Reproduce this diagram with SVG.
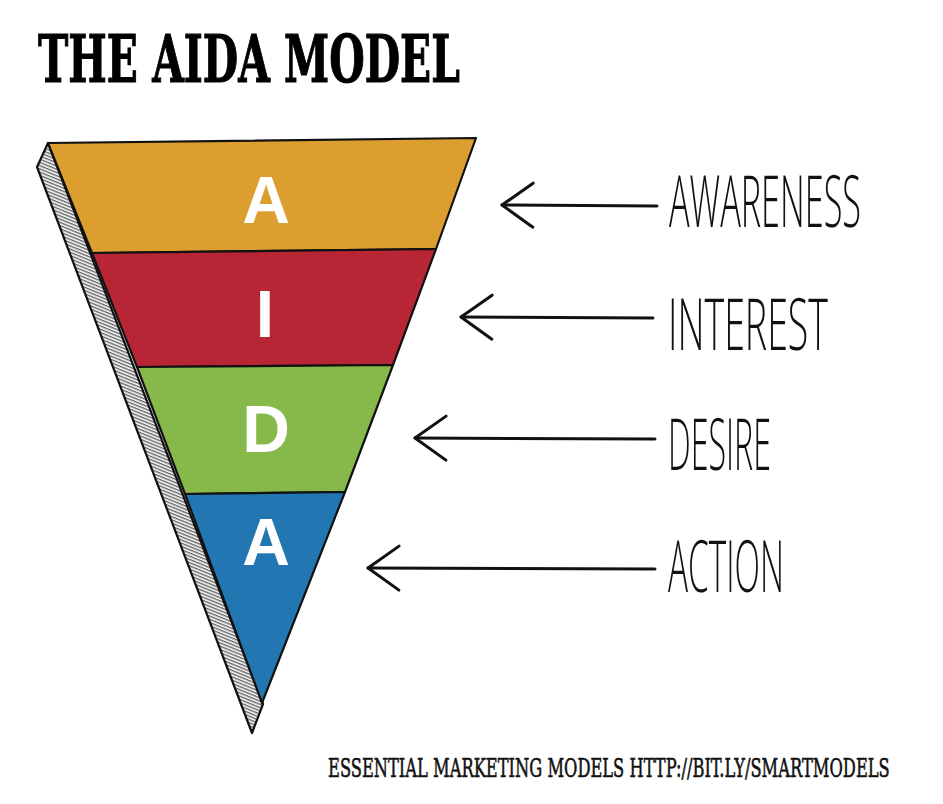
<svg xmlns="http://www.w3.org/2000/svg" width="943" height="804" viewBox="0 0 943 804">
<defs>
<pattern id="hatch" width="6" height="3" patternUnits="userSpaceOnUse" patternTransform="rotate(22)">
<rect width="6" height="3" fill="#fff"/>
<line x1="0" y1="0.8" x2="6" y2="0.8" stroke="#222" stroke-width="1"/>
</pattern>
<marker id="head" viewBox="0 0 40 50" refX="37" refY="25" markerWidth="40" markerHeight="50" markerUnits="userSpaceOnUse" orient="auto">
<path d="M6,3 L37,25 L6,47" fill="none" stroke="#111" stroke-width="3" stroke-linecap="round" stroke-linejoin="round"/>
</marker>
</defs>
<style>
.band{stroke:#111;stroke-width:2.2;stroke-linejoin:round}
.letter{font-family:"Liberation Sans",Arial,sans-serif;font-weight:bold;font-size:66px;fill:#fff;text-anchor:middle}
.lbl{font-family:"Open Sans","Liberation Sans",sans-serif;font-weight:300;font-size:72px;fill:#111}
.arrow{stroke:#111;stroke-width:3;fill:none;stroke-linecap:round}
.title{font-family:"DejaVu Serif","Liberation Serif",serif;font-weight:bold;font-size:66px;fill:#000}
.foot{font-family:"DejaVu Serif","Liberation Serif",serif;font-weight:normal;font-size:26px;fill:#111}
</style>
<rect width="943" height="804" fill="#fff"/>
<g id="title"><text class="title" transform="translate(38,82) scale(0.57,1)" x="0" y="0" textLength="740" lengthAdjust="spacingAndGlyphs" stroke="#000" stroke-width="1.2">THE AIDA MODEL</text></g>
<g id="shadow"><polygon points="48,143 37,167 252,733 263,704" fill="url(#hatch)" stroke="#111" stroke-width="2.2" stroke-linejoin="round"/></g>
<g id="awareness-band"><polygon class="band" points="48,143 476,138 436,249 92,253" fill="#DC9E2E"/><text class="letter" x="266" y="223">A</text></g>
<g id="interest-band"><polygon class="band" points="92,253 436,249 393,365 137,367" fill="#B82535"/><text class="letter" x="265" y="337">I</text></g>
<g id="desire-band"><polygon class="band" points="137,367 393,365 345,492 185,494" fill="#86B84A"/><text class="letter" x="266" y="452">D</text></g>
<g id="action-band"><polygon class="band" points="185,494 345,492 262,703" fill="#2277B2"/><text class="letter" x="266" y="565">A</text></g>
<g id="connectors">
<line class="arrow" x1="657" y1="206" x2="502" y2="205" marker-end="url(#head)"/>
<line class="arrow" x1="653" y1="318" x2="461" y2="317" marker-end="url(#head)"/>
<line class="arrow" x1="655" y1="439" x2="415" y2="438" marker-end="url(#head)"/>
<line class="arrow" x1="655" y1="569" x2="368" y2="568" marker-end="url(#head)"/>
</g>
<g id="label-awareness"><text class="lbl" transform="translate(669,227) scale(0.5,1)" x="0" y="0" textLength="384" lengthAdjust="spacingAndGlyphs">AWARENESS</text></g>
<g id="label-interest"><text class="lbl" transform="translate(668,350) scale(0.5,1)" x="0" y="0" textLength="320" lengthAdjust="spacingAndGlyphs">INTEREST</text></g>
<g id="label-desire"><text class="lbl" transform="translate(668,470) scale(0.5,1)" x="0" y="0" textLength="206" lengthAdjust="spacingAndGlyphs">DESIRE</text></g>
<g id="label-action"><text class="lbl" transform="translate(668,592) scale(0.5,1)" x="0" y="0" textLength="232" lengthAdjust="spacingAndGlyphs">ACTION</text></g>
<g id="footer"><text class="foot" transform="translate(328,777) scale(0.62,1)" x="0" y="0" textLength="906" lengthAdjust="spacingAndGlyphs" stroke="#111" stroke-width="0.6">ESSENTIAL MARKETING MODELS HTTP://BIT.LY/SMARTMODELS</text></g>
</svg>
